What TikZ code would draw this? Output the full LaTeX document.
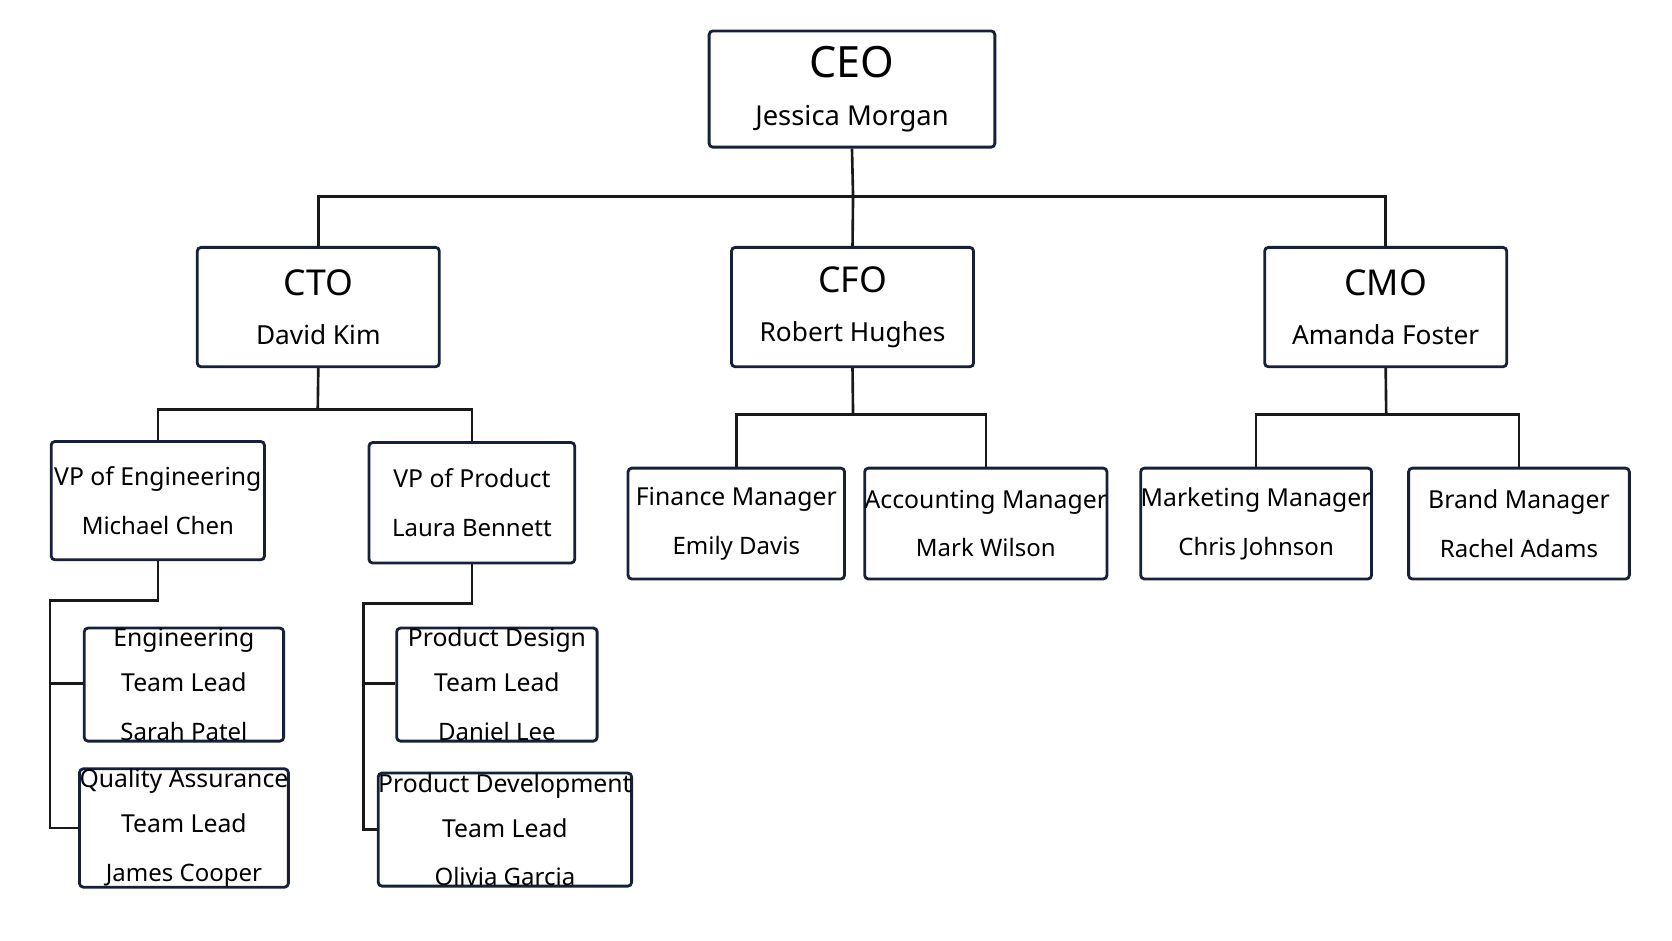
\documentclass[tikz,border=0pt]{standalone}
\usepackage{fontspec}
\setmainfont{Noto Sans}
\newcommand\fBig{\fontsize{9.5}{11}\selectfont\bfseries}
\newcommand\fMid{\fontsize{6.6}{8.6}\selectfont\bfseries}
\newcommand\fNm{\fontsize{6.4}{8}\selectfont}
\begin{document}
\begin{tikzpicture}[x=0.01cm,y=-0.01cm,
  box/.style={draw=boxc,line width=0.75pt,rounded corners=1pt,fill=white,align=center,inner sep=0pt},
  ln/.style={draw=black!90,line width=0.7pt}]
\definecolor{boxc}{HTML}{16203A}
\fill[white] (0,0) rectangle (1568,882);
\useasboundingbox (0,0) rectangle (1568,882);
\newcommand\bx[7]{\node[box,minimum width=(#4-#2)*0.01cm,minimum height=(#5-#3)*0.01cm] (#1) at ({(#2+#4)/2},{(#3+#5)/2}) {#6\\[1pt]{\fNm #7}};}
\bx{ceo}{665}{29}{933}{138}{{\fontsize{11.5}{16}\selectfont\bfseries CEO}}{\fontsize{7.3}{9}\selectfont Jessica Morgan}
\bx{cto}{185}{232}{412}{344}{{\fBig CTO}}{\fontsize{7}{9}\selectfont David Kim}
\bx{cfo}{686}{232}{913}{344}{{\fBig CFO}}{\fontsize{7}{9}\selectfont Robert Hughes}
\bx{cmo}{1186}{232}{1413}{344}{{\fBig CMO}}{\fontsize{7}{9}\selectfont Amanda Foster}
\bx{vpe}{48}{414}{248}{525}{{\fMid VP of Engineering}}{Michael Chen}
\bx{vpp}{346}{415}{539}{528}{{\fMid VP of Product}}{Laura Bennett}
\bx{fin}{589}{439}{792}{543}{{\fMid Finance Manager}}{Emily Davis}
\bx{acc}{823}{439}{1026}{543}{{\fMid Accounting Manager}}{Mark Wilson}
\bx{mkt}{1073}{439}{1283}{543}{{\fMid Marketing Manager}}{Chris Johnson}
\bx{brd}{1321}{439}{1528}{543}{{\fMid Brand Manager}}{Rachel Adams}
\bx{etl}{79}{589}{266}{695}{{\fMid Engineering}\\{\fMid Team Lead}}{Sarah Patel}
\bx{qa}{79}{722}{266}{831}{{\fMid Quality Assurance}\\{\fMid Team Lead}}{James Cooper}
\bx{pd}{372}{589}{560}{695}{{\fMid Product Design}\\{\fMid Team Lead}}{Daniel Lee}
\bx{pdev}{371}{725}{576}{831}{{\fMid Product Development}\\{\fMid Team Lead}}{Olivia Garcia}
\draw[ln] (ceo.south) -- (800,184);
\draw[ln] (cto.north) |- (cmo.north |- 0,184) -- (cmo.north);
\draw[ln] (800,184) -- (cfo.north);
\draw[ln] (cto.south) -- (298,384);
\draw[ln] (vpe.north) |- (vpp.north |- 0,384) -- (vpp.north);
\draw[ln] (cfo.south) -- (800,389);
\draw[ln] (fin.north) |- (acc.north |- 0,389) -- (acc.north);
\draw[ln] (cmo.south) -- (1300,389);
\draw[ln] (mkt.north) |- (brd.north |- 0,389) -- (brd.north);
\draw[ln] (vpe.south) |- (47,563) |- (qa.west);
\draw[ln] (47,641) -- (47,641 -| etl.west);
\draw[ln] (vpp.south) |- (341,566) |- (pdev.west);
\draw[ln] (341,641) -- (341,641 -| pd.west);
\end{tikzpicture}
\end{document}
